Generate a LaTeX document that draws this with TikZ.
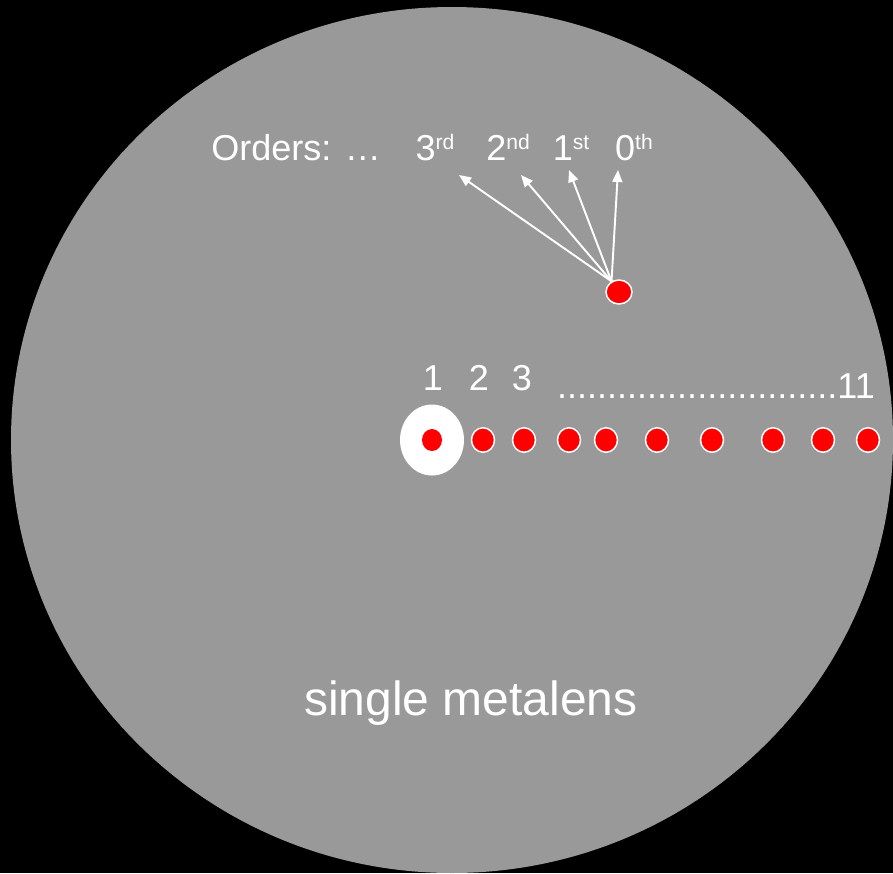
\documentclass[tikz,border=0pt]{standalone}
\usepackage{fontspec}
\setmainfont{Liberation Sans}
\usetikzlibrary{shapes.geometric,arrows.meta}
\definecolor{lensgray}{gray}{0.6}
\newcommand{\ordsup}[2]{#1\raisebox{6.2pt}{\fontsize{12}{12}\selectfont #2}}
\tikzset{
  txt/.style={text=white,inner sep=0pt,font=\fontsize{20.5}{20.5}\selectfont},
  reddot/.style={ellipse,fill=red,draw=white,line width=0.85pt,minimum width=0.46cm,minimum height=0.49cm,inner sep=0pt},
  ray/.style={white,line width=1.1pt,-{Triangle[length=0.24cm,width=0.2cm]}}
}
\begin{document}
\begin{tikzpicture}[x=0.02cm,y=-0.02cm]
\fill[black] (0,0) rectangle (893,873);
\fill[lensgray] (452,440) ellipse [x radius=441,y radius=433];
\node[txt,anchor=base west] (ordlbl) at (211,160) {Orders: …};
\node[txt,anchor=base] (o3) at (435,160) {\ordsup{3}{rd}};
\node[txt,anchor=base] (o2) at (508,160) {\ordsup{2}{nd}};
\node[txt,anchor=base] (o1) at (571,160) {\ordsup{1}{st}};
\node[txt,anchor=base] (o0) at (634,160) {\ordsup{0}{th}};
\node[reddot,minimum width=0.52cm,minimum height=0.48cm] (src) at (619,292) {};
\coordinate (t3) at (459,175);
\coordinate (t2) at (521,175);
\coordinate (t1) at (569,170);
\coordinate (t0) at (618,170);
\foreach \t in {t3,t2,t1,t0}
  \draw[ray] (src.125) -- (\t);
\node[ellipse,fill=white,minimum width=1.28cm,minimum height=1.42cm,inner sep=0pt] (halo) at (432,440) {};
\node[ellipse,fill=red,minimum width=0.4cm,minimum height=0.44cm,inner sep=0pt] (d1) at (halo.center) {};
\foreach \x [count=\i from 2] in {483,524,569,606,657,712,773,823,868}
  \node[reddot] (d\i) at (\x,440) {};
\node[txt,anchor=base] (n1) at (433,390) {1};
\node[txt,anchor=base] (n2) at (479,390) {2};
\node[txt,anchor=base] (n3) at (522,390) {3};
\node[txt,anchor=base east] (n11) at (875,398) {............................11};
\node[txt,anchor=base,font=\fontsize{27.3}{27.3}\selectfont] (title) at (471,715) {single metalens};
\end{tikzpicture}
\end{document}
